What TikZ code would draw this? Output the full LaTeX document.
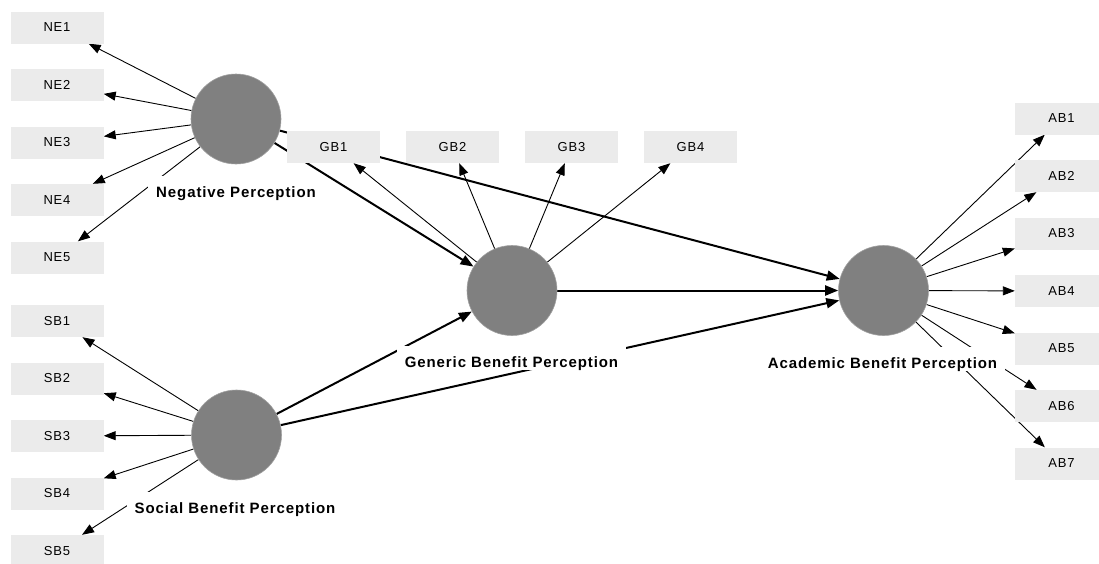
\documentclass[tikz,border=0pt]{standalone}
\usepackage{fontspec}
\setmainfont{Liberation Sans}
\newfontfamily\indfont[LetterSpace=6]{Liberation Sans}
\newfontfamily\latfont[LetterSpace=6]{Liberation Sans}
\usetikzlibrary{arrows.meta,backgrounds}
\definecolor{boxgray}{HTML}{EBEBEB}
\definecolor{latgray}{HTML}{808080}

\begin{document}
\begin{tikzpicture}[x=1pt,y=-1pt,
    ind/.style={fill=boxgray,minimum width=93pt,minimum height=32pt,inner sep=0pt,
        font=\indfont\fontsize{13}{15}\selectfont},
    lat/.style={circle,fill=latgray,draw=latgray!75!white,line width=0.6pt,minimum size=90pt,inner sep=0pt},
    latlabel/.style={fill=white,anchor=base,inner xsep=8pt,inner ysep=0pt,text height=21pt,text depth=3pt,
        font=\latfont\bfseries\fontsize{15}{17}\selectfont},
    loading/.style={-{Triangle[length=12pt,width=9pt]},line width=0.9pt},
    effect/.style={-{Triangle[length=13pt,width=10pt]},line width=2pt}]
            \useasboundingbox (0,0) rectangle (1099,563);
            \clip (0,0) rectangle (1099,563);
            % indicators
            \foreach \i [evaluate=\i as \y using 27.5+57.5*(\i-1)] in {1,...,5}
                \node[ind] (ne\i) at (57,\y) {NE\i};
            \foreach \i [evaluate=\i as \y using 321+57.5*(\i-1)] in {1,...,5}
                \node[ind] (sb\i) at (57,\y) {SB\i};
            \foreach \i [evaluate=\i as \x using 333.5+119*(\i-1)] in {1,...,4}
                \node[ind] (gb\i) at (\x,147) {GB\i};
            \foreach \i [evaluate=\i as \y using 118.5+57.5*(\i-1)] in {1,...,7}
                \node[ind] (ab\i) at (1061.5,\y) {AB\i};
            % latent variables
            \node[lat] (np) at (236,119) {};
            \node[lat] (sbp) at (236.5,435) {};
            \node[lat] (gbp) at (512,290.5) {};
            \node[lat] (abp) at (883.5,290.5) {};
            \begin{scope}[on background layer]
                \foreach \i in {1,...,5} \draw[loading] (np) -- (ne\i);
                \foreach \i in {1,...,5} \draw[loading] (sbp) -- (sb\i);
                \foreach \i in {1,...,4} \draw[loading] (gbp) -- (gb\i);
                \foreach \i in {1,...,7} \draw[loading] (abp) -- (ab\i);
                \draw[effect] (np) -- (gbp);
                \draw[effect] (np) -- (abp);
                \draw[effect] (sbp) -- (gbp);
                \draw[effect] (sbp) -- (abp);
                \draw[effect] (gbp) -- (abp);
            \end{scope}
            % labels
            \node[latlabel] (nplbl) at (236,197) {Negative Perception};
            \node[latlabel] (sbplbl) at (235,513) {Social Benefit Perception};
            \node[latlabel] (gbplbl) at (511.5,367) {Generic Benefit Perception};
            \node[latlabel] (abplbl) at (882.5,368) {Academic Benefit Perception};
        \end{tikzpicture}
\end{document}
